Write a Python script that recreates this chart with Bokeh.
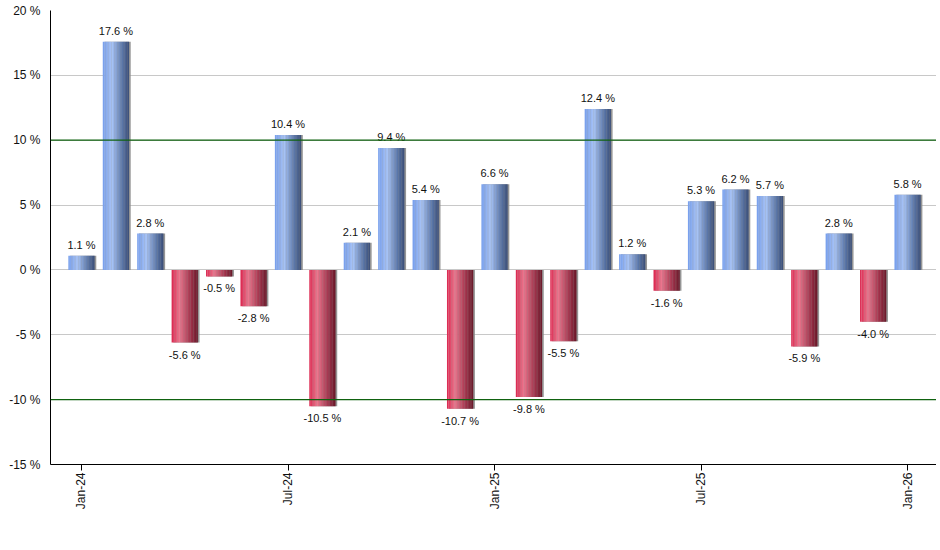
import numpy as np
from bokeh.plotting import figure
from bokeh.models import ColumnDataSource, FixedTicker, Span
from bokeh.core.properties import value
from bokeh.embed import file_html
from bokeh.resources import INLINE

# ---- data ----
months = ["Jan-24", "Feb-24", "Mar-24", "Apr-24", "May-24", "Jun-24", "Jul-24", "Aug-24",
          "Sep-24", "Oct-24", "Nov-24", "Dec-24", "Jan-25", "Feb-25", "Mar-25", "Apr-25",
          "May-25", "Jun-25", "Jul-25", "Aug-25", "Sep-25", "Oct-25", "Nov-25", "Dec-25", "Jan-26"]
returns = [1.1, 17.6, 2.8, -5.6, -0.5, -2.8, 10.4, -10.5, 2.1, 9.4, 5.4, -10.7, 6.6,
           -9.8, -5.5, 12.4, 1.2, -1.6, 5.3, 6.2, 5.7, -5.9, 2.8, -4.0, 5.8]
y_ticks = [-15, -10, -5, 0, 5, 10, 15, 20]
x_tick_idx = [0, 6, 12, 18, 24]

FONT = "Liberation Sans"
idx = np.arange(len(months), dtype=float)
vals = np.array(returns)

p = figure(width=936, height=520, x_range=(-0.9, 24.84), y_range=(-15, 20),
           output_backend="svg", toolbar_location=None,
           min_border_left=50, min_border_right=0, min_border_top=10, min_border_bottom=56)
p.outline_line_color = None
p.background_fill_color = "white"
p.border_fill_color = "white"
p.xgrid.visible = False
p.ygrid.ticker = FixedTicker(ticks=y_ticks)
p.ygrid.grid_line_color = "#c8c8c8"
p.ygrid.grid_line_width = 1

for lvl in (10, -10):
    p.add_layout(Span(location=lvl, dimension="width", line_color="#0f620f", line_width=1.3))

BAR_W = 0.76
NSTRIP = 18

def grad(stops, t):
    pos = [s[0] for s in stops]
    cols = np.array([s[1] for s in stops], dtype=float)
    rgb = [np.interp(t, pos, cols[:, k]) for k in range(3)]
    return "#%02x%02x%02x" % tuple(int(round(c)) for c in rgb)

blue_stops = [(0.0, (118, 158, 236)), (0.35, (168, 196, 246)), (0.75, (90, 118, 168)), (1.0, (58, 78, 118))]
red_stops = [(0.0, (218, 38, 78)), (0.3, (236, 118, 142)), (0.75, (156, 48, 72)), (1.0, (104, 24, 40))]

pos_mask = vals >= 0
neg_mask = ~pos_mask

# shadow
p.vbar(x=idx + 0.05, top=vals, bottom=0, width=BAR_W, fill_color="#8a8a8a",
       line_color=None, fill_alpha=0.9)

sw = BAR_W / NSTRIP
for k in range(NSTRIP):
    t = (k + 0.5) / NSTRIP
    off = -BAR_W / 2 + (k + 0.5) * sw
    for mask, stops in ((pos_mask, blue_stops), (neg_mask, red_stops)):
        c = grad(stops, t)
        p.vbar(x=idx[mask] + off, top=vals[mask], bottom=0, width=sw * 1.08,
               fill_color=c, line_color=None)

labels = ["%.1f %%" % v for v in returns]
src_pos = ColumnDataSource(dict(x=idx[pos_mask], y=vals[pos_mask],
                                t=[l for l, m in zip(labels, pos_mask) if m]))
src_neg = ColumnDataSource(dict(x=idx[neg_mask], y=vals[neg_mask],
                                t=[l for l, m in zip(labels, neg_mask) if m]))
p.text(x="x", y="y", text="t", source=src_pos, text_align="center", text_baseline="bottom",
       y_offset=-5, text_font=value(FONT), text_font_size="11px", text_color="#111111")
p.text(x="x", y="y", text="t", source=src_neg, text_align="center", text_baseline="top",
       y_offset=6, text_font=value(FONT), text_font_size="11px", text_color="#111111")

# axes
p.yaxis.ticker = FixedTicker(ticks=y_ticks)
p.yaxis.major_label_overrides = {t: "%d %%" % t for t in y_ticks}
p.yaxis.major_tick_line_color = None
p.yaxis.minor_tick_line_color = None
p.yaxis.major_label_standoff = 4
p.yaxis.axis_line_color = "black"
p.yaxis.major_label_text_font = FONT
p.yaxis.major_label_text_font_size = "12px"
p.yaxis.major_label_text_color = "#111111"

p.xaxis.ticker = FixedTicker(ticks=x_tick_idx)
p.xaxis.major_label_overrides = {i: months[i] for i in x_tick_idx}
p.xaxis.major_label_orientation = np.pi / 2
p.xaxis.major_tick_in = 0
p.xaxis.major_tick_out = 6
p.xaxis.major_tick_line_color = "black"
p.xaxis.minor_tick_line_color = None
p.xaxis.major_label_standoff = 2
p.xaxis.axis_line_color = "black"
p.xaxis.major_label_text_font = FONT
p.xaxis.major_label_text_font_size = "12px"
p.xaxis.major_label_text_color = "#111111"

open("out.html", "w").write(file_html(p, INLINE))
